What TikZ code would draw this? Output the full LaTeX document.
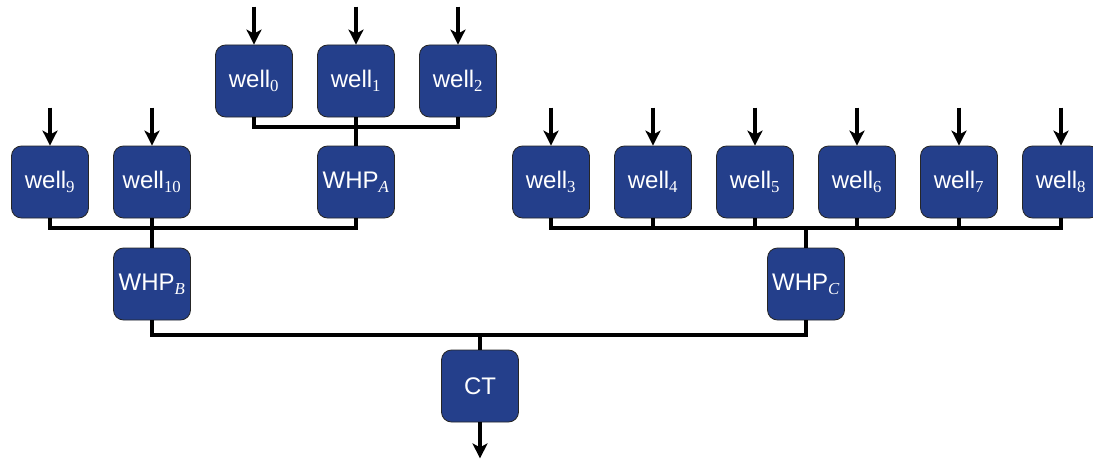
\documentclass[tikz,border=0pt]{standalone}
\usepackage{fontspec}
\setmainfont{Liberation Sans}
\newfontfamily\subserif{Liberation Serif}
\usetikzlibrary{arrows.meta}
\definecolor{boxblue}{HTML}{243F8B}
\newcommand{\wsub}[1]{\textsubscript{\subserif #1}}
\newcommand{\whpsub}[1]{\textsubscript{\subserif\itshape #1}}
\tikzset{
  unit/.style={draw=black!85, line width=0.8pt, fill=boxblue, rounded corners=10pt,
    minimum width=77pt, minimum height=72pt, inner sep=0pt, text=white,
    font=\fontsize{24}{28}\selectfont},
  pipe/.style={line width=4pt, black},
  feed/.style={line width=3.5pt, black, -{Stealth[length=15pt,width=15pt,inset=4pt]}}
}
\begin{document}
\begin{tikzpicture}[x=1pt,y=-1pt]
\useasboundingbox (0,0) rectangle (1093,460);
\begin{scope}
\clip (0,0) rectangle (1093,460);
% row 1
\node[unit] (w0) at (254,81) {well\wsub{0}};
\node[unit] (w1) at (356,81) {well\wsub{1}};
\node[unit] (w2) at (458,81) {well\wsub{2}};
% row 2
\node[unit] (w9) at (50,182) {well\wsub{9}};
\node[unit] (w10) at (152,182) {well\wsub{10}};
\node[unit] (whpA) at (356,182) {WHP\whpsub{A}};
\node[unit] (w3) at (551,182) {well\wsub{3}};
\node[unit] (w4) at (653,182) {well\wsub{4}};
\node[unit] (w5) at (755,182) {well\wsub{5}};
\node[unit] (w6) at (857,182) {well\wsub{6}};
\node[unit] (w7) at (959,182) {well\wsub{7}};
\node[unit] (w8) at (1061,182) {well\wsub{8}};
% row 3
\node[unit] (whpB) at (152,284) {WHP\whpsub{B}};
\node[unit] (whpC) at (806,284) {WHP\whpsub{C}};
% row 4
\node[unit] (ct) at (480,386) {CT};

% feeds
\foreach \n in {w0,w1,w2,w9,w10,w3,w4,w5,w6,w7,w8} {
  \coordinate (s\n) at ([yshift=38pt]\n.north);
  \draw[feed] (s\n) -- (\n.north);
}
\coordinate (out) at ([yshift=-36pt]ct.south);
\draw[feed] (ct.south) -- (out);

% pipes
\draw[pipe] (w0.south) |- (w2.south |- 0,127) -- (w2.south);
\draw[pipe] (w1.south) -- (whpA.north);
\draw[pipe] (w9.south) |- (whpA.south |- 0,228) -- (whpA.south);
\draw[pipe] (w10.south) -- (whpB.north);
\draw[pipe] (w3.south) |- (w8.south |- 0,228) -- (w8.south);
\foreach \n in {w4,w5,w6,w7} \draw[pipe] (\n.south) -- (\n.south |- 0,228);
\draw[pipe] (whpC.north) -- (whpC.north |- 0,228);
\draw[pipe] (whpB.south) |- (whpC.south |- 0,335) -- (whpC.south);
\draw[pipe] (ct.north) -- (ct.north |- 0,335);
\end{scope}
\end{tikzpicture}
\end{document}
